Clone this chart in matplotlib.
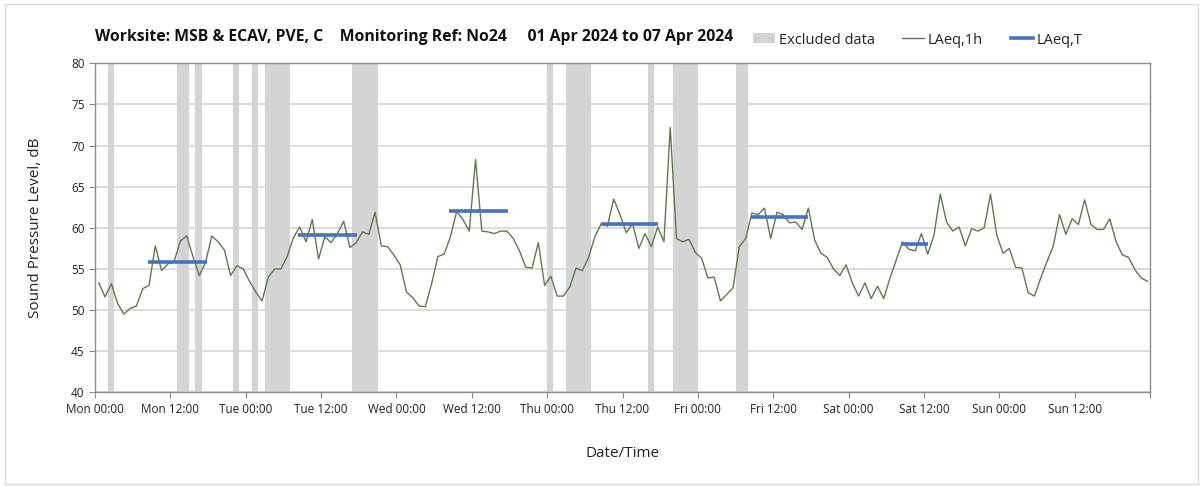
import numpy as np
import matplotlib
matplotlib.use("Agg")
from matplotlib import pyplot as plt
from matplotlib.lines import Line2D
from matplotlib.patches import Patch, Rectangle

plt.rcParams["font.family"] = ["Open Sans", "DejaVu Sans"]

# hourly LAeq,1h values, Mon 00:00 .. Sun 23:00
laeq_1h = [
    53.3, 51.6, 53.2, 50.8, 49.5, 50.2, 50.5, 52.6, 53.0, 57.8, 54.8, 55.6,
    55.9, 58.4, 59.0, 56.5, 54.2, 55.8, 59.0, 58.3, 57.3, 54.2, 55.4, 55.0,
    53.5, 52.2, 51.1, 54.0, 55.0, 55.0, 56.5, 58.8, 60.1, 58.3, 61.0, 56.2,
    58.9, 58.2, 59.3, 60.8, 57.6, 58.2, 59.5, 59.2, 61.9, 57.8, 57.7, 56.7,
    55.5, 52.2, 51.5, 50.5, 50.4, 53.2, 56.5, 56.8, 58.9, 62.0, 61.0, 59.6,
    68.3, 59.6, 59.5, 59.3, 59.6, 59.6, 58.7, 57.2, 55.2, 55.1, 58.2, 53.0,
    54.1, 51.7, 51.7, 52.8, 55.1, 54.8, 56.4, 58.9, 60.5, 60.2, 63.5, 61.6,
    59.4, 60.5, 57.5, 59.3, 57.7, 60.1, 58.3, 72.2, 58.7, 58.3, 58.6, 57.0,
    56.3, 53.9, 54.0, 51.1, 51.9, 52.7, 57.7, 58.7, 61.8, 61.6, 62.4, 58.7,
    61.9, 61.6, 60.6, 60.7, 59.8, 62.4, 58.5, 56.9, 56.4, 55.0, 54.2, 55.5,
    53.3, 51.7, 53.3, 51.4, 52.9, 51.4, 53.9, 56.1, 58.3, 57.4, 57.2, 59.3,
    56.8, 59.1, 64.1, 60.7, 59.6, 60.1, 57.8, 59.9, 59.6, 60.0, 64.1, 59.1,
    56.9, 57.5, 55.2, 55.1, 52.1, 51.7, 53.9, 55.9, 57.8, 61.6, 59.2, 61.1,
    60.4, 63.4, 60.4, 59.8, 59.8, 61.1, 58.3, 56.7, 56.4, 54.9, 53.9, 53.5,
]
hours = np.arange(len(laeq_1h)) + 0.6

# LAeq,T periods (start h, end h, level)
period_start = [8.4, 32.4, 56.4, 80.5, 104.5, 128.3]
period_end = [17.8, 41.8, 65.7, 89.7, 113.6, 132.7]
period_level = [55.8, 59.15, 62.1, 60.5, 61.3, 58.0]

# excluded data (start h, end h)
excl_start = [2, 13, 16, 22, 25, 27, 41, 72, 75, 88, 92, 102]
excl_end = [3, 15, 17, 23, 26, 31, 45, 73, 79, 89, 96, 104]

days = ["Mon", "Tue", "Wed", "Thu", "Fri", "Sat", "Sun"]
tick_labels = [f"{d} {t}" for d in days for t in ("00:00", "12:00")]

W, H = 1203, 486
fig = plt.figure(figsize=(W / 100, H / 100), dpi=100)
ax = fig.add_axes([95 / W, 1 - 392.3 / H, (1150 - 95) / W, (392.3 - 63.3) / H])

for s, e in zip(excl_start, excl_end):
    ax.axvspan(s, e, color="#d4d4d4", lw=0, zorder=1)

ax.plot(hours, laeq_1h, color="#5e7b4a", lw=1.0, zorder=3)
ax.hlines(period_level, period_start, period_end, color="#4472c4", lw=2.6, zorder=4)

ax.set_xlim(0, 168)
ax.set_ylim(40, 80)
ax.set_yticks(np.arange(40, 81, 5))
ax.set_xticks(np.arange(0, 169, 12))
ax.set_xticklabels(tick_labels + [""])
ax.set_xticks(np.arange(0, 169, 24), minor=True)
ax.grid(axis="y", color="#d9d9d9", lw=1.3, zorder=0)
ax.grid(axis="x", which="minor", color="#d9d9d9", lw=1.0, zorder=0)
ax.set_axisbelow(True)
ax.tick_params(axis="x", which="minor", length=0)
ax.tick_params(axis="both", which="major", color="#888888", length=4, labelsize=8.5,
               labelcolor="#222222")
for sp in ax.spines.values():
    sp.set_color("#8c8c8c")
    sp.set_linewidth(1.0)

ax.set_ylabel("Sound Pressure Level, dB", fontsize=11, color="#222222", labelpad=20)
ax.set_xlabel("Date/Time", fontsize=11, color="#222222", labelpad=22)

fig.text(95 / W, 1 - 37 / H,
         "Worksite: MSB & ECAV, PVE, C    Monitoring Ref: No24     01 Apr 2024 to 07 Apr 2024",
         fontsize=11.3, fontweight="bold", va="center", ha="left", color="#111111")

handles = [
    Patch(facecolor="#d4d4d4", edgecolor="none"),
    Line2D([], [], color="#5e7b4a", lw=1.0),
    Line2D([], [], color="#4472c4", lw=2.6),
]
fig.legend(handles, ["Excluded data", "LAeq,1h", "LAeq,T"], loc="center left",
           bbox_to_anchor=(740 / W, 1 - 40 / H), ncol=3, frameon=False, fontsize=10.5,
           handlelength=1.5, handletextpad=0.25, columnspacing=1.9, labelcolor="#222222")

fig.patches.append(Rectangle((5 / W, 2 / H), 1 - 10 / W, 1 - 6 / H, transform=fig.transFigure,
                             fill=False, edgecolor="#d9d9d9", lw=1.0))

fig.savefig("out.png", dpi=100)
